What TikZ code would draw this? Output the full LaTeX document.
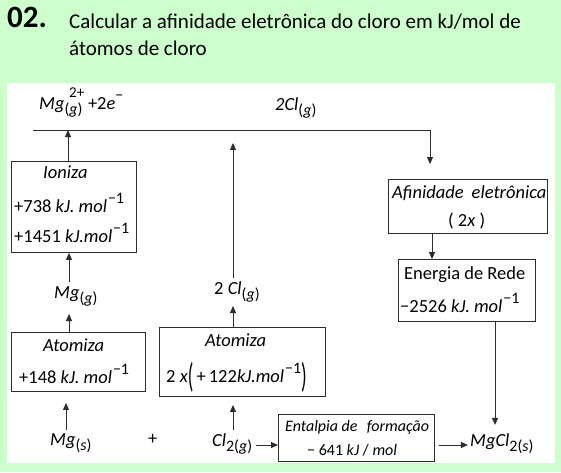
\documentclass[tikz,border=0pt]{standalone}
\usepackage{fontspec}
\setmainfont{Carlito}
\usetikzlibrary{arrows.meta}
\definecolor{bgg}{RGB}{204,255,204}
\definecolor{linec}{RGB}{45,45,45}
\newcommand{\supx}[1]{\raisebox{0.45em}{\fontsize{16}{16}\selectfont #1}}
\newcommand{\subx}[1]{\raisebox{-0.32em}{\fontsize{16}{16}\selectfont #1}}
\newcommand{\molx}{\textit{mol}\hspace{0.05em}\supx{−1}}
\begin{document}
\begin{tikzpicture}[x=1pt,y=-1pt,
  txt/.style={inner sep=0pt, anchor=base west, font=\fontsize{18.5}{20}\selectfont},
  box/.style={draw=linec, line width=0.9pt, inner sep=0pt, anchor=north west, fill=white},
  arr/.style={draw=linec, line width=0.9pt, -{Triangle[length=7pt,width=6pt]}},
  ln/.style={draw=linec, line width=0.9pt}]
\useasboundingbox (0,0) rectangle (561,472);
\fill[bgg] (0,0) rectangle (561,472);
\fill[white] (7,83) rectangle (555,463);
% title
\node[inner sep=0pt, anchor=base west, font=\fontsize{31}{33}\selectfont\bfseries] (num) at (7,27) {02.};
\node[inner sep=0pt, anchor=base west, font=\fontsize{21}{27}\selectfont] (q1) at (69,28) {Calcular a afinidade eletrônica do cloro em kJ/mol de};
\node[inner sep=0pt, anchor=base west, font=\fontsize{21}{27}\selectfont] (q2) at (69,55) {átomos de cloro};
% boxes
\node[box, minimum width=125pt, minimum height=91pt] (ion) at (11,161) {};
\node[box, minimum width=134pt, minimum height=59pt] (atl) at (11,332) {};
\node[box, minimum width=166pt, minimum height=69pt] (atm) at (159,327) {};
\node[box, minimum width=156pt, minimum height=47pt] (ent) at (278,414) {};
\node[box, minimum width=159pt, minimum height=54pt] (afi) at (388,179) {};
\node[box, minimum width=137pt, minimum height=62pt] (ene) at (398,259) {};
% labels
\node[txt] (mg2) at (39,109) {\textit{Mg}\makebox[0pt][l]{\hspace{0.25em}\raisebox{0.6em}{\fontsize{15}{15}\selectfont 2+}}\subx{(\textit{g})}\hspace{0.3em}+2\textit{e}\supx{−}};
\node[txt] (cl2g) at (275,110) {\textit{2Cl}\subx{(\textit{g})}};
\node[txt] (ionT) at (43,178) {\textit{Ioniza}};
\node[txt] (ion1) at (14,212) {+738 \textit{kJ. }\molx};
\node[txt] (ion2) at (14,242) {+1451 \textit{kJ.}\molx};
\node[txt] (mgg) at (54,298) {\textit{Mg}\subx{(\textit{g})}};
\node[txt] (atlT) at (43,351) {\textit{Atomiza}};
\node[txt] (atl1) at (19,383) {+148 \textit{kJ. }\molx};
\node[txt] (mgs) at (50,445) {\textit{Mg}\subx{(\textit{s})}};
\node[txt] (plus) at (148,444) {+};
\node[txt] (clg) at (214,294) {2 \textit{Cl}\subx{(\textit{g})}};
\node[txt] (atmT) at (205,346) {\textit{Atomiza}};
\node[txt] (atm1) at (166,382) {2 \textit{x}\raisebox{-0.32em}{\scalebox{1}[1.85]{(}}\,+\,122\textit{kJ.}\molx\raisebox{-0.32em}{\scalebox{1}[1.85]{)}}};
\node[txt] (cl2) at (212,446) {\textit{Cl}\subx{2(\textit{g})}};
\node[txt, font=\fontsize{16}{18}\selectfont] (entT) at (285,431) {\textit{Entalpia de\hspace{0.35em} formação}};
\node[txt, font=\fontsize{16}{18}\selectfont] (ent1) at (307,455) {− 641 \textit{kJ} / \textit{mol}};
\node[txt] (mgcl) at (470,446) {\textit{MgCl}\subx{2(\textit{s})}};
\node[txt] (afiT) at (392,198) {\textit{Afinidade\hspace{0.2em} eletrônica}};
\node[txt] (afi1) at (448,226) {( 2\textit{x} )};
\node[txt] (eneT) at (404,279) {Energia de Rede};
\node[txt] (ene1) at (400,312) {−2526 \textit{kJ. }\molx};
% helper coordinates
\coordinate (xa) at (68,0);
\coordinate (xb) at (69,0);
\coordinate (xc) at (66,0);
\coordinate (xm) at (233,0);
\coordinate (xr) at (432,0);
\coordinate (xe) at (495,0);
\coordinate (tl) at (33,130);
\coordinate (tr) at (430,130);
\coordinate (tdown) at (430,164);
% connectors
\draw[ln] (tl) -- (tr);
\draw[arr] (tr) -- (tdown);
\draw[arr] (ion.north -| xa) -- (tl -| xa);
\draw[arr] (mgg.north -| xb) ++(0,-4) -- (ion.south -| xb);
\draw[arr] (atl.north -| xb) -- ++(0,-18);
\draw[arr] (mgs.north -| xc) ++(0,-3) -- ++(0,-27);
\draw[arr] (atm.north -| xm) -- ++(0,-21);
\draw[arr] (clg.north -| xm) ++(0,-3) -- ++(0,-135);
\draw[arr] (cl2.north -| xm) ++(0,-3) -- ++(0,-25);
\draw[arr] (cl2.east |- 0,445) ++(4,0) -- (ent.west |- 0,445);
\draw[arr] (ent.east |- 0,445) ++(4,0) -- ++(29,0);
\draw[arr] (afi.south -| xr) -- (ene.north -| xr);
\draw[arr] (ene.south -| xe) -- ++(0,103);
\end{tikzpicture}
\end{document}
